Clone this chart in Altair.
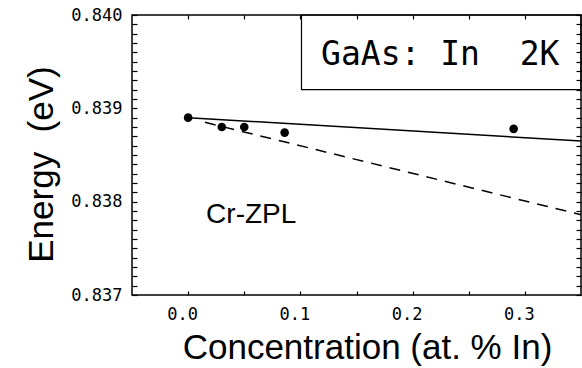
import altair as alt
import pandas as pd

# Cr zero-phonon line energy vs. indium concentration in GaAs:In at 2 K
conc = [0.0, 0.03, 0.05, 0.086, 0.29]          # at. % In
energy = [0.8389, 0.8388, 0.8388, 0.83874, 0.83878]  # eV

# trend lines
solid_x = [0.0, 0.35]
solid_y = [0.8389, 0.83865]
dash_x = [0.015, 0.35]
dash_y = [0.83885, 0.83786]

# legend box in the upper right corner
box_x = [0.101, 0.35]
box_y = [0.8392, 0.840]
box_text = "GaAs:\u00a0In\u00a0\u00a02K"
box_text_pos = [0.2246, 0.83946]

line_label = "Cr-ZPL"
line_label_pos = [0.0562, 0.83777]

# axis ranges and ticks (labels only on the round values)
x_range = [-0.05, 0.35]
y_range = [0.837, 0.840]
x_ticks = [0.0, 0.05, 0.1, 0.15, 0.2, 0.25, 0.3]
y_labeled = [0.837, 0.838, 0.839, 0.840]
y_minor = [0.8371, 0.8372, 0.8373, 0.8374, 0.8375, 0.8376, 0.8377, 0.8378, 0.8379,
           0.8381, 0.8382, 0.8383, 0.8384, 0.8385, 0.8386, 0.8387, 0.8388, 0.8389,
           0.8391, 0.8392, 0.8393, 0.8394, 0.8395, 0.8396, 0.8397, 0.8398, 0.8399]
y_ticks = y_labeled + y_minor

W, H = 449, 280
TITLE_FONT = "Liberation Sans"
TICK_FONT = "DejaVu Sans Mono"

xs = alt.Scale(domain=x_range, nice=False, zero=False)
ys = alt.Scale(domain=y_range, nice=False, zero=False)

pts = pd.DataFrame({"c": conc, "e": energy})
solid = pd.DataFrame({"c": solid_x, "e": solid_y})
dashed = pd.DataFrame({"c": dash_x, "e": dash_y})
box = pd.DataFrame({"c": [box_x[0]], "c2": [box_x[1]], "e": [box_y[0]], "e2": [box_y[1]]})
box_lbl = pd.DataFrame({"c": [box_text_pos[0]], "e": [box_text_pos[1]], "t": [box_text]})
line_lbl = pd.DataFrame({"c": [line_label_pos[0]], "e": [line_label_pos[1]], "t": [line_label]})

# left / bottom axes: labels outside, ticks pointing into the frame
X_AXIS = alt.Axis(
    orient="bottom", values=x_ticks, format=".2f",
    labelExpr="slice(datum.label, 3) == '0' ? slice(datum.label, 0, 3) : ''",
    ticks=True, tickSize={"expr": "-4"}, tickColor="black", tickWidth=1.2,
    domain=False, grid=False,
    labelFont=TICK_FONT, labelFontSize=17, labelColor="black", labelPadding=15,
    labelOffset=-6,
    title="Concentration (at.\u00a0%\u00a0In)", titleFont=TITLE_FONT, titleFontSize=35,
    titleFontWeight="normal", titleColor="black", titleX=235, titleY=63,
    titleAlign="center", titleBaseline="alphabetic",
)
Y_AXIS = alt.Axis(
    orient="left", values=y_ticks, format=".4f",
    labelExpr="slice(datum.label, 5) == '0' ? slice(datum.label, 0, 5) : ''",
    ticks=True, tickSize={"expr": "-5"}, tickColor="black", tickWidth=1.2,
    domain=False, grid=False,
    labelFont=TICK_FONT, labelFontSize=17, labelColor="black", labelPadding=15,
    title="Energy\u00a0\u00a0(eV)", titleFont=TITLE_FONT, titleFontSize=35,
    titleFontWeight="normal", titleColor="black", titleAngle=270, titleX=-80, titleY=149,
    titleAlign="center", titleBaseline="alphabetic",
)

# right / top axes: ticks only, also pointing into the frame
X_AXIS_TOP = alt.Axis(
    orient="top", values=x_ticks, ticks=True, tickSize={"expr": "-4"},
    tickColor="black", tickWidth=1.2, labels=False, domain=False, grid=False, title=None,
)
Y_AXIS_RIGHT = alt.Axis(
    orient="right", values=y_ticks, ticks=True, tickSize={"expr": "-5"},
    tickColor="black", tickWidth=1.2, labels=False, domain=False, grid=False, title=None,
)


def X(field):
    return alt.X(field, scale=xs, axis=None)


def Y(field):
    return alt.Y(field, scale=ys, axis=None)


points = alt.Chart(pts).mark_circle(size=75, color="black", opacity=1).encode(
    x=alt.X("c:Q", scale=xs, axis=X_AXIS),
    y=alt.Y("e:Q", scale=ys, axis=Y_AXIS),
)

frame_ticks = alt.Chart(pts).mark_point(opacity=0).encode(
    x=alt.X("c:Q", scale=xs, axis=X_AXIS_TOP),
    y=alt.Y("e:Q", scale=ys, axis=Y_AXIS_RIGHT),
)

box_rect = alt.Chart(box).mark_rect(fillOpacity=0, stroke="black", strokeWidth=1.2).encode(
    x=X("c:Q"), x2="c2:Q", y=Y("e:Q"), y2="e2:Q",
)

solid_line = alt.Chart(solid).mark_line(color="black", strokeWidth=1.5).encode(
    x=X("c:Q"), y=Y("e:Q"),
)

dashed_line = alt.Chart(dashed).mark_line(color="black", strokeWidth=1.5, strokeDash=[11, 8]).encode(
    x=X("c:Q"), y=Y("e:Q"),
)

box_label = alt.Chart(box_lbl).mark_text(
    font=TICK_FONT, fontSize=33, color="black", align="center", baseline="alphabetic"
).encode(
    x=X("c:Q"), y=Y("e:Q"), text="t:N",
)

curve_label = alt.Chart(line_lbl).mark_text(
    font=TITLE_FONT, fontSize=28, color="black", align="center", baseline="alphabetic"
).encode(
    x=X("c:Q"), y=Y("e:Q"), text="t:N",
)

chart = alt.layer(
    box_rect, solid_line, dashed_line, points, box_label, curve_label, frame_ticks,
).resolve_axis(
    x="independent", y="independent"
).properties(
    width=W, height=H,
    padding={"left": 132, "top": 15, "right": 1, "bottom": 73},
    autosize=alt.AutoSizeParams(type="none"),
    background="white",
).configure_view(
    stroke="black", strokeWidth=1.5
)

chart.save("out.html", embed_options={"renderer": "svg", "actions": False})
